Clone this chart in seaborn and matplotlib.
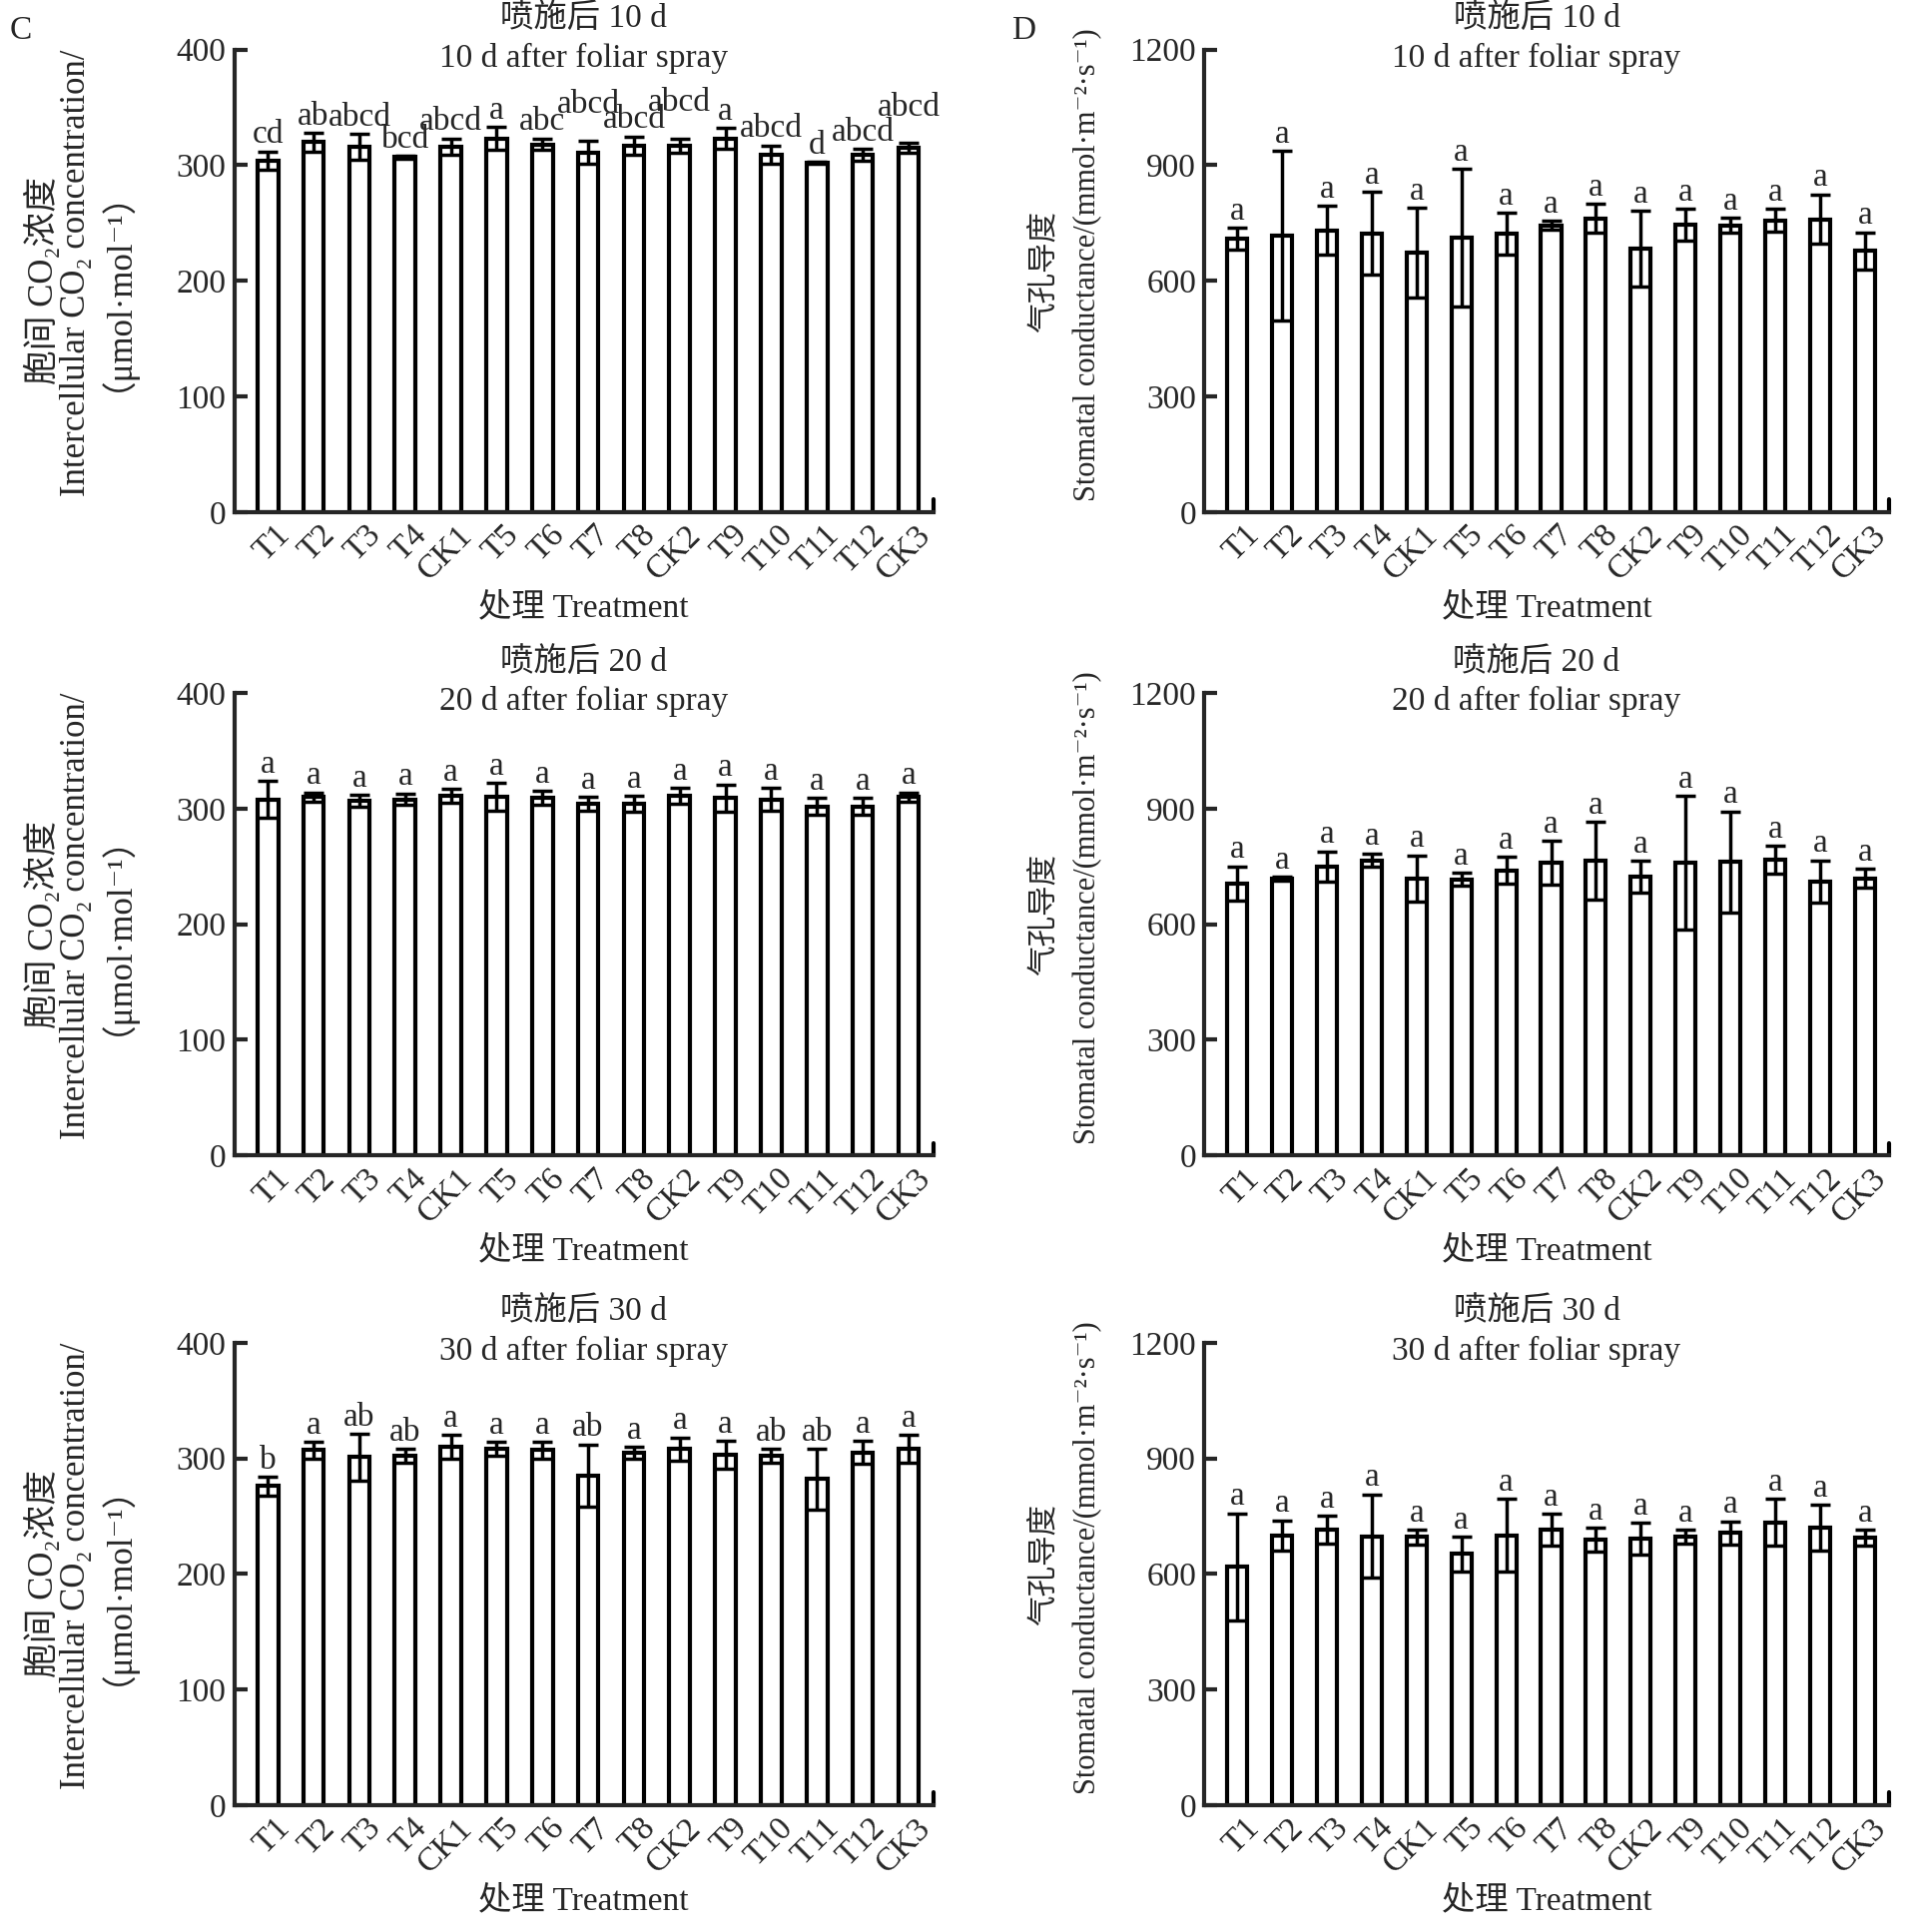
import matplotlib
matplotlib.use('Agg')
import matplotlib.pyplot as plt
import seaborn as sns
import numpy as np
import pandas as pd
from matplotlib.transforms import ScaledTranslation

# categorias (tratamentos)
tratamentos = ['T1', 'T2', 'T3', 'T4', 'CK1', 'T5', 'T6', 'T7', 'T8', 'CK2',
               'T9', 'T10', 'T11', 'T12', 'CK3']

# C - CO2 intercelular
ci_10d = [304, 320, 316, 307, 316, 323, 318, 311, 317, 317, 323, 309, 302, 309, 315]
ci_10d_err = [8, 8, 11, 1, 7, 10, 5, 10, 8, 6, 9, 8, 1, 5, 4]
ci_10d_let = ['cd', 'ab', 'abcd', 'bcd', 'abcd', 'a', 'abc', 'abcd', 'abcd', 'abcd',
              'a', 'abcd', 'd', 'abcd', 'abcd']

ci_20d = [308, 310, 307, 308, 311, 310, 309, 304, 304, 311, 309, 308, 302, 302, 310]
ci_20d_err = [16, 4, 5, 5, 6, 12, 6, 6, 7, 7, 12, 10, 7, 7, 4]
ci_20d_let = ['a'] * 15

ci_30d = [276, 307, 301, 302, 310, 308, 307, 285, 305, 308, 303, 302, 282, 305, 308]
ci_30d_err = [8, 7, 20, 6, 10, 6, 7, 27, 5, 10, 12, 6, 26, 10, 12]
ci_30d_let = ['b', 'a', 'ab', 'ab', 'a', 'a', 'a', 'ab', 'a', 'a', 'a', 'ab', 'ab', 'a', 'a']

# D - condutancia estomatica
gs_10d = [710, 717, 731, 723, 673, 712, 722, 744, 762, 683, 745, 744, 757, 760, 678]
gs_10d_err = [28, 220, 63, 108, 117, 178, 54, 12, 37, 98, 41, 19, 29, 64, 48]
gs_10d_let = ['a'] * 15

gs_20d = [706, 718, 750, 766, 719, 716, 740, 759, 765, 723, 759, 761, 767, 711, 719]
gs_20d_err = [44, 5, 39, 18, 60, 17, 34, 57, 101, 42, 174, 132, 36, 55, 25]
gs_20d_let = ['a'] * 15

gs_30d = [618, 700, 715, 698, 696, 652, 700, 715, 688, 692, 697, 706, 734, 720, 694]
gs_30d_err = [139, 39, 36, 108, 19, 45, 95, 41, 31, 41, 18, 30, 61, 59, 20]
gs_30d_let = ['a'] * 15

titulos_cn = ['喷施后 10 d', '喷施后 20 d', '喷施后 30 d']
titulos_en = ['10 d after foliar spray', '20 d after foliar spray', '30 d after foliar spray']

ylabel_ci = ['胞间 CO\u2082浓度', 'Intercellular CO\u2082 concentration/', '（μmol·mol\u207b\u00b9）']
ylabel_gs = ['气孔导度', 'Stomatal conductance/(mmol·m\u207b\u00b2·s\u207b\u00b9)']
xlabel_txt = '处理 Treatment'

sns.set_style('ticks')
plt.rcParams['font.family'] = ['Liberation Serif', 'DejaVu Serif', 'Noto Sans CJK SC']
plt.rcParams['axes.unicode_minus'] = False

FS = 24
LW = 3

fig = plt.figure(figsize=(19.15, 19.35), dpi=100)

bottoms = [0.735, 0.402, 0.0657]
altura = 0.2393
col_x = [(0.1226, 0.3655), (0.630, 0.358)]

paineis = [
    (0, 0, ci_10d, ci_10d_err, ci_10d_let, 400, 100, [0, 0, 0, 0, 0, 0, 0, 1, 0, 1, 0, 0, 0, 0, 1]),
    (1, 0, ci_20d, ci_20d_err, ci_20d_let, 400, 100, None),
    (2, 0, ci_30d, ci_30d_err, ci_30d_let, 400, 100, None),
    (0, 1, gs_10d, gs_10d_err, gs_10d_let, 1200, 300, None),
    (1, 1, gs_20d, gs_20d_err, gs_20d_let, 1200, 300, None),
    (2, 1, gs_30d, gs_30d_err, gs_30d_let, 1200, 300, None),
]

for linha, col, medias, erros, letras, ymax, passo, elevar in paineis:
    x0, w = col_x[col]
    ax = fig.add_axes([x0, bottoms[linha], w, altura])
    df = pd.DataFrame({'trat': tratamentos, 'valor': medias})
    sns.barplot(data=df, x='trat', y='valor', color='white', edgecolor='black',
                linewidth=LW, width=0.45, saturation=1, ax=ax)
    xs = np.arange(len(tratamentos))
    ax.errorbar(xs, medias, yerr=erros, fmt='none', ecolor='black',
                elinewidth=2.5, capsize=7, capthick=2.5, zorder=5)

    for i, (m, e, l) in enumerate(zip(medias, erros, letras)):
        extra = 14 if (elevar is not None and elevar[i]) else 0
        ax.annotate(l, (i, m + e), xytext=(0, 1 + extra), textcoords='offset points',
                    ha='center', va='bottom', fontsize=FS)

    ax.set_xlim(-0.73, len(tratamentos) - 1 + 0.54)
    ax.set_ylim(0, ymax)
    ax.set_yticks(np.arange(0, ymax + 1, passo))
    ax.set_xlabel('')
    ax.set_ylabel('')
    sns.despine(ax=ax)
    for s in ['left', 'bottom']:
        ax.spines[s].set_linewidth(LW)
    ax.tick_params(axis='y', direction='in', length=9, width=LW, labelsize=FS, pad=6)
    ax.tick_params(axis='x', length=0, labelsize=FS, pad=4)
    ax.axvline(ax.get_xlim()[1], ymin=0, ymax=0.027, color='black', lw=LW, clip_on=False)

    ax.set_xticks(xs)
    ax.set_xticklabels(tratamentos, rotation=45, ha='right', va='center',
                       rotation_mode='anchor')
    desloc = ScaledTranslation(0.17, -0.13, fig.dpi_scale_trans)
    for lbl in ax.get_xticklabels():
        lbl.set_transform(lbl.get_transform() + desloc)

    xt = 0.5 if col == 0 else 0.485
    ax.text(xt, 1.067, titulos_cn[linha], transform=ax.transAxes, ha='center',
            va='center', fontsize=FS)
    ax.text(xt, 0.981, titulos_en[linha], transform=ax.transAxes, ha='center',
            va='center', fontsize=FS)
    ax.text(0.5, -0.208, xlabel_txt, transform=ax.transAxes, ha='center',
            va='center', fontsize=FS)

    # rotulo do eixo y, uma linha por texto
    if col == 0:
        for xl, yl, txt in zip([-0.274, -0.226, -0.196], [0.50, 0.518, 0.516], ylabel_ci):
            ax.text(xl, yl, txt, transform=ax.transAxes, rotation=90,
                    ha='center', va='center', fontsize=25)
    else:
        for xl, yl, txt in zip([-0.234, -0.170], [0.52, 0.535], ylabel_gs):
            ax.text(xl, yl, txt, transform=ax.transAxes, rotation=90,
                    ha='center', va='center', fontsize=22)

fig.text(0.005, 0.984, 'C', fontsize=FS, ha='left', va='center')
fig.text(0.529, 0.984, 'D', fontsize=FS, ha='left', va='center')

fig.savefig('out.png', dpi=100)
